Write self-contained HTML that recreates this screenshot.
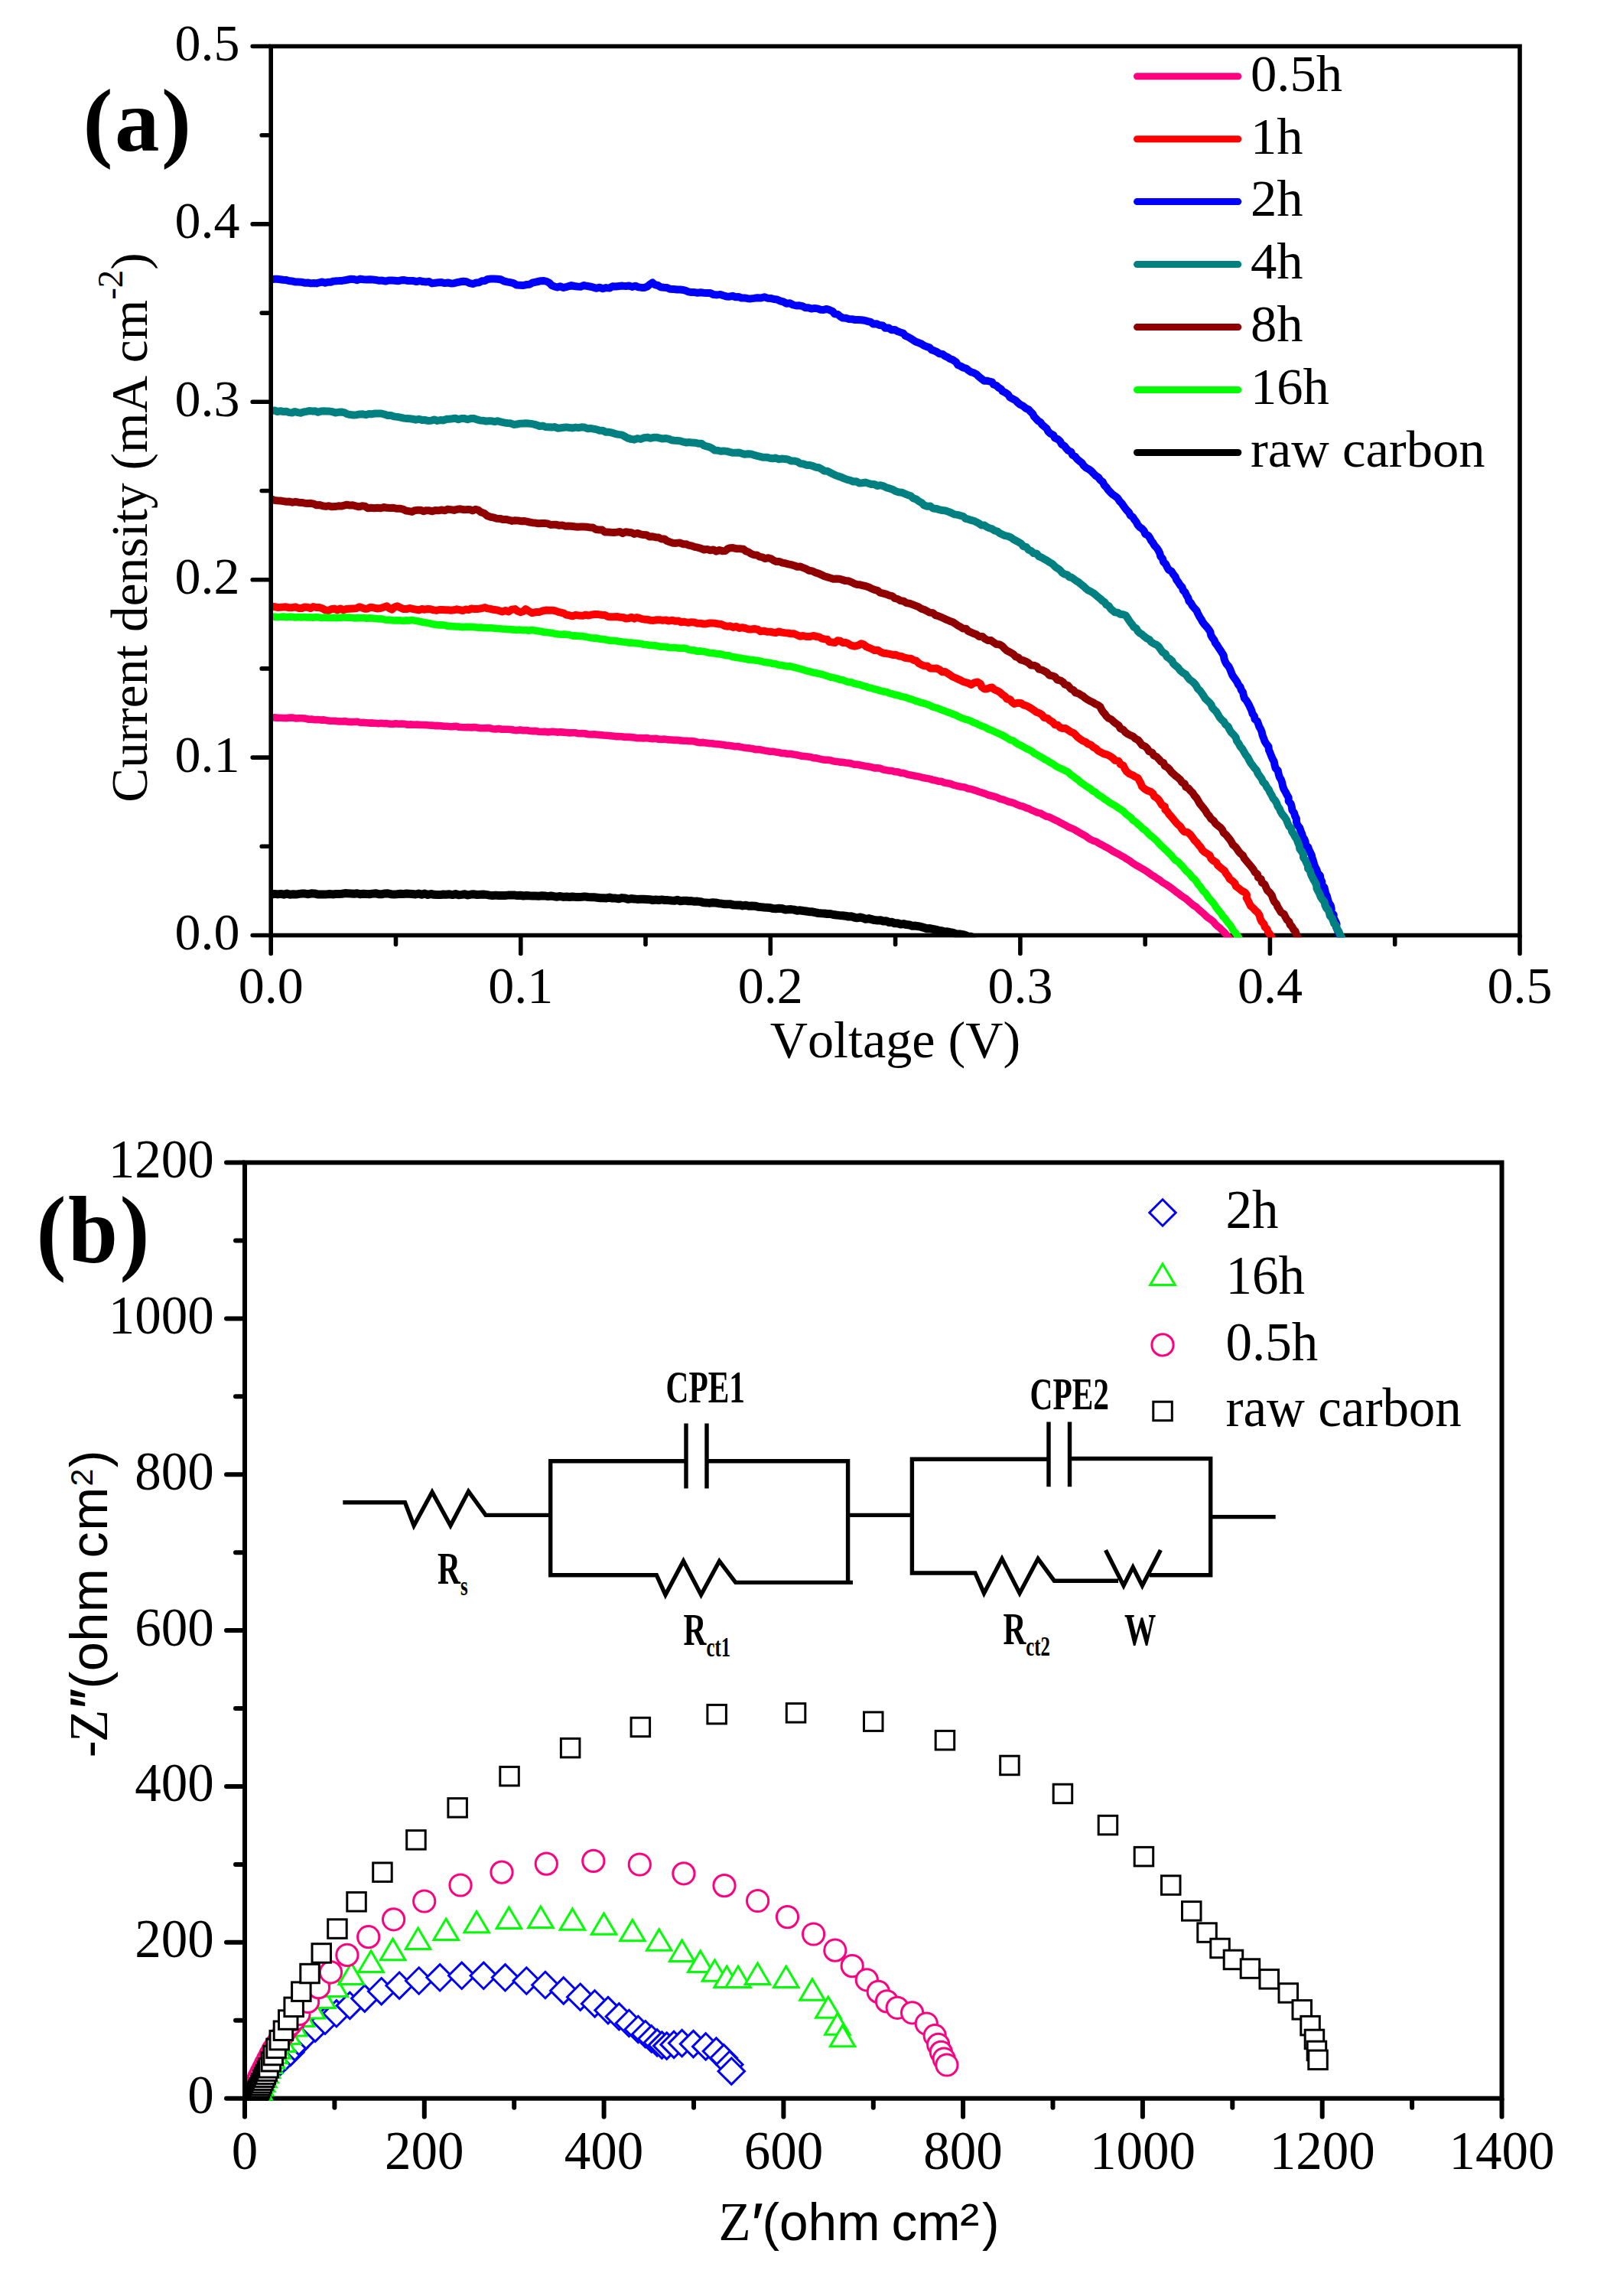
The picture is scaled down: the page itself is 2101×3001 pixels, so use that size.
<!DOCTYPE html>
<html lang="en"><head><meta charset="utf-8"><title>J-V curves and Nyquist plots</title>
<style>html,body{margin:0;padding:0;background:#fff}svg{display:block}text{fill:#000;font-kerning:none;font-variant-ligatures:none}.t{font-family:"Liberation Serif", "DejaVu Serif", serif;font-size:68px}.tb{font-family:"Liberation Serif", "DejaVu Serif", serif;font-size:69px}.s{font-family:"Liberation Sans", "DejaVu Sans", sans-serif}.cb{font-family:"Liberation Serif", "DejaVu Serif", serif;font-weight:bold;font-size:60px}.pl{font-family:"Liberation Serif", "DejaVu Serif", serif;font-weight:bold;font-size:117px;letter-spacing:2.5px}</style></head><body>
<svg width="2101" height="3001" viewBox="0 0 2101 3001">
<rect width="2101" height="3001" fill="#fff"/>
<defs><clipPath id="ca"><rect x="357" y="63" width="1627" height="1162.3"/></clipPath><clipPath id="cb"><rect x="323" y="1522.5" width="1637.5" height="1223.2"/></clipPath></defs>
<g id="panel-a">
<rect x="354.2" y="60.5" width="1632.8" height="1162" fill="none" stroke="#000" stroke-width="5.6"/>
<path d="M353.2 1222.5H330.2M354.2 1223.5V1246.5M353.2 1106.3H342.2M517.5 1223.5V1234.5M353.2 990.1H330.2M680.8 1223.5V1246.5M353.2 873.9H342.2M844 1223.5V1234.5M353.2 757.7H330.2M1007.3 1223.5V1246.5M353.2 641.5H342.2M1170.6 1223.5V1234.5M353.2 525.3H330.2M1333.9 1223.5V1246.5M353.2 409.1H342.2M1497.2 1223.5V1234.5M353.2 292.9H330.2M1660.4 1223.5V1246.5M353.2 176.7H342.2M1823.7 1223.5V1234.5M353.2 60.5H330.2M1987 1223.5V1246.5" stroke="#000" stroke-width="5.6" stroke-linecap="round" fill="none"/>
<text class="t" x="313.5" y="1240.9" text-anchor="end">0.0</text>
<text class="t" x="354.2" y="1310.6" text-anchor="middle">0.0</text>
<text class="t" x="313.5" y="1008.5" text-anchor="end">0.1</text>
<text class="t" x="680.8" y="1310.6" text-anchor="middle">0.1</text>
<text class="t" x="313.5" y="776.1" text-anchor="end">0.2</text>
<text class="t" x="1007.3" y="1310.6" text-anchor="middle">0.2</text>
<text class="t" x="313.5" y="543.7" text-anchor="end">0.3</text>
<text class="t" x="1333.9" y="1310.6" text-anchor="middle">0.3</text>
<text class="t" x="313.5" y="311.3" text-anchor="end">0.4</text>
<text class="t" x="1660.4" y="1310.6" text-anchor="middle">0.4</text>
<text class="t" x="313.5" y="78.9" text-anchor="end">0.5</text>
<text class="t" x="1987" y="1310.6" text-anchor="middle">0.5</text>
<g clip-path="url(#ca)" fill="none" stroke-linejoin="round" stroke-linecap="butt">
<path d="M355.1,938.1 359.1,937.9 363.1,938.3 367.1,938.2 371.1,938.5 375.1,938.6 379.1,938.1 383.1,938.1 387.1,939 391.1,938.8 395.1,938.8 399.2,939.1 403.2,940.2 407.3,940 411.3,940.7 415.3,940.6 419.4,941.1 423.5,940.9 427.5,941.7 431.5,942.3 435.6,942.2 439.5,942.4 443.4,942.9 447.4,943 451.4,942.6 455.3,943.5 459.3,943.6 463.2,943.5 467.2,943.4 471.1,944.5 475.1,944.3 479,944.7 482.9,945.1 486.9,944.9 490.7,945.3 494.5,945.7 498.3,945.3 502.1,945.8 505.9,945.6 509.7,946.3 513.5,946.4 517.3,945.8 521.1,946.3 525.1,946.1 529,946.3 533,947.2 536.9,946.9 540.9,947.2 544.8,947.1 548.8,947.4 552.7,947.5 556.7,947.6 560.6,948 564.6,948.1 568.5,948.6 572.5,948.4 576.4,948.8 580.3,949.2 584.3,949.3 588.2,949.7 592.2,949.6 596.2,949.3 600.1,950.2 604,950.5 608,950.7 612,950.5 615.9,950.9 619.9,950.6 623.8,951.1 627.8,951.7 631.9,951.7 635.9,951.6 639.9,951.6 643.9,952.7 647.9,953 652,952.4 656,953.3 660,953.2 664.1,953.2 668.1,953.5 672.1,954.3 676.1,954.6 680.2,954 684.2,954.8 688.3,954.5 692.3,955.2 696.3,955.6 700.3,955.4 704.3,956.2 708.3,956.5 712.4,956.2 716.4,956.9 720.4,956.4 724.5,956.4 728.5,957.1 732.5,956.7 736.6,957.1 740.6,957.5 744.6,957.9 748.6,957.7 752.7,957.8 756.7,958.8 760.7,958.6 764.7,958.8 768.7,959.7 772.8,960 776.8,959.8 780.8,960.2 784.9,960.6 788.9,961 792.9,961.3 796.9,961.6 801,962 805,962.6 809,962.5 813.1,962.7 817.1,963.4 821.1,963.2 825.1,963.6 829.2,964.1 833.2,964.8 837.2,964.6 841.2,964.9 845.3,964.6 849.3,965.2 853.3,965.6 857.4,965.3 861.4,966.2 865.4,966.4 869.4,966.1 873.4,966.9 877.5,967 881.5,967.4 885.5,967.3 889.5,967.9 893.6,968.2 897.6,968.2 900,968.6 903.9,968.5 907.7,969 911.4,970 915.2,970.7 919,970.4 922.8,971 926.6,971.6 930.4,971.7 934.2,972.3 938,972.6 941.9,973 945.6,973.6 949.4,974.2 953.3,974.4 957.1,974.9 960.8,975.8 964.7,975.5 968.5,976.4 972.2,977.1 976,977.8 979.9,977.9 983.7,978.4 987.4,979.6 991.3,979.6 995.1,980.1 998.9,980.9 1002.7,981.6 1006.5,982.2 1010.3,982.2 1014.1,982.9 1017.9,983.4 1021.6,984.4 1025.5,984.5 1029.3,985.4 1033.1,985.2 1036.9,986 1040.7,986.5 1044.5,987.4 1048.2,988.3 1052.1,988.5 1056,989 1059.8,989.5 1063.5,990.6 1067.4,990.9 1071.1,991.8 1074.9,992.7 1078.7,993.3 1082.6,993.2 1086.4,993.9 1090.1,995 1093.9,995.4 1097.7,996.1 1101.6,996.2 1105.4,997 1109.2,997.2 1113,998 1116.7,999.2 1120.6,999.3 1124.4,1000 1128.2,1000.8 1132,1001.4 1135.8,1002 1139.6,1002.8 1143.3,1003.9 1147.2,1003.8 1151.1,1004.3 1154.7,1006 1158.5,1006.6 1162.3,1007.4 1166.2,1007.5 1169.9,1008.7 1173.8,1008.9 1177.5,1010.2 1181.5,1010.4 1185.2,1011.8 1188.9,1012.8 1192.8,1013.5 1196.6,1014.2 1200.5,1014.9 1204.3,1015.8 1208,1016.8 1211.9,1017.4 1215.7,1018.1 1219.4,1019.4 1223.3,1019.9 1227,1021.3 1230.9,1021.4 1234.6,1023.1 1238.4,1023.7 1242.3,1024.3 1245.9,1025.8 1249.8,1026.8 1253.6,1027.8 1257.4,1028.5 1261.4,1029 1265,1030.7 1269,1031.2 1272.7,1032.4 1276.5,1033.6 1280.2,1035 1284.1,1036.1 1287.9,1037.3 1291.6,1039 1295.5,1040 1299.3,1041 1303.2,1042.1 1306.8,1044 1310.7,1044.9 1314.5,1046.2 1318.2,1047.8 1322.2,1048.7 1326,1049.9 1329.7,1051.6 1333.4,1053.2 1337.4,1053.9 1341,1055.8 1344.9,1056.9 1348.6,1058.9 1352.4,1060.4 1356.2,1062.1 1360.3,1062.9 1363.9,1065.1 1367.6,1067 1371.7,1067.9 1375.4,1069.7 1379.2,1071.6 1382.7,1073.2 1386.1,1075.2 1389.6,1076.9 1393.1,1078.7 1396.4,1080.8 1400,1082.3 1403.9,1083.9 1407.5,1086 1411.2,1088.2 1414.8,1090.2 1418.5,1092.2 1421.9,1094.7 1425.4,1097 1429.1,1098.8 1433.1,1100 1436.6,1102.3 1440.3,1104.1 1443.9,1106.2 1447.6,1108.1 1451.3,1110.2 1454.8,1112.5 1458.5,1114.5 1462.3,1116.3 1465.8,1118.5 1469.7,1120.5 1473.3,1122.9 1477,1125.1 1480.4,1127.7 1484,1130.1 1487.8,1132.2 1491.5,1134.4 1495.3,1136.5 1498.9,1138.8 1502.5,1141.3 1506,1143.8 1509.7,1146 1512.7,1148.3 1516.1,1150.2 1519,1152.7 1522.2,1154.7 1525.5,1156.7 1528.6,1158.8 1531.7,1161 1534.8,1163.4 1537.8,1165.9 1541.1,1168 1544.1,1170.6 1547.4,1172.8 1550.7,1174.9 1553.6,1177.5 1556.9,1180.3 1560.1,1183.1 1563.8,1185.4 1566.9,1188.4 1570.1,1191.2 1573.4,1193.9 1576.4,1197 1579.7,1199.8 1583.3,1202.1 1586.6,1204.9 1589,1208 1591.8,1210.6 1595,1213 1597.6,1215.9 1600.5,1218.4 1603,1221.4 1605.8,1225 1609.1,1228.3" stroke="#FF0080" stroke-width="9.6"/>
<path d="M355.1,792.6 358.9,793.2 362.6,793.9 366.4,793.8 370.2,793.6 374,793.3 378,794.3 382.2,794.2 386.4,793.3 390.4,794.9 394.5,795 398.2,793.5 402,793.7 405.8,795.1 409.5,793 413.3,794 417.6,794.1 421.6,795.3 425.3,797.4 429.3,798.2 433.1,796.2 437,795.6 441,797.5 444.8,795.5 448.8,797.1 452.7,796.1 457,795.8 461.4,795.5 465.7,795.2 469.8,793.3 473.2,794.3 476.5,795.7 480.1,795.7 484.1,793.8 488.6,794.3 492.8,795.4 497.2,795 501.5,793.7 505.7,792.3 508.8,795 512.6,796.7 515.4,793.7 519.4,792.3 523.2,794.2 527.1,795.9 531.4,796.1 535.4,795 539.4,795.8 543.4,796.6 547.3,797.4 551.4,796 555.4,796.7 559.2,796 563,796.3 566.8,797.4 570.5,797.9 574.4,797 578.2,797.1 582,797.3 585.8,797.3 589.6,797.8 593.4,797.3 597.2,796.3 601.1,797.1 605,798.1 608.8,796.5 612.7,797.1 616.5,795.4 620.4,796.1 625,795.9 629.6,795.3 634.1,794 637.4,795.4 640.9,795.9 644.3,796.7 648.5,797.2 652.5,798.2 656.5,799.4 660.9,798 664.9,799.5 668.8,796.8 673.4,796.1 676.5,798.7 680.3,800.2 684.3,799 687.1,796.1 691.4,798.7 695.7,801.2 700.2,800.1 704.9,799.9 709.4,798.5 713.6,797.6 717.9,797.8 722.2,797.7 726.5,798.5 729.8,799.9 733.5,800.6 737,801.6 740.2,803.6 744.4,804.3 748.7,805.3 753,803.8 757.3,804.6 761.4,804.8 765.5,803.7 769.7,804.5 773.7,803.5 777.8,802.9 782.2,803.1 786.5,803.7 790.9,804 794.9,806 798.8,806.2 802.8,806.3 806.7,806 810.6,806.8 814.5,807 818.3,808.5 822.3,808 825.6,806.8 829.3,808.6 832.6,807 836,807.9 839.4,809.1 842.8,809.7 846.8,809.8 850.6,810.8 854.6,810.9 858.5,810.3 862.4,810.2 866.3,810.9 870.2,810.4 874.4,811.6 878.8,810.7 883,811.8 887.3,811.5 890.5,813.3 894.2,812.7 897.6,813.5 900,813.9 903.9,813.2 907.8,813.4 911.7,814.7 915.6,814.7 919.5,815.5 923.4,815.4 927.4,814.5 931.4,814.4 935.3,814.8 939.2,815.5 943.1,815.9 946.9,817.8 950.7,818.7 954.8,818.3 958.5,819.9 962.7,818.8 966.4,821 970.5,820.2 974.3,821 978.1,822.4 982.1,822.4 986.4,822 990.5,822.7 994.3,825.3 998.7,824.6 1002.7,825.8 1006.6,825.7 1010.5,826.5 1014.4,827 1018.4,825.5 1022.3,826.6 1026.2,827.1 1030.1,827.5 1034.1,828.2 1038.2,828.3 1042,830 1045.8,831.7 1050.1,831 1054,832 1058.6,832.1 1063.1,831 1067.7,832 1071.3,832.6 1074.4,834.7 1078,835.4 1081.8,835.8 1084.4,839.1 1088.2,839.5 1091.8,840 1094.9,837.3 1098.5,837.8 1101.6,840 1105.5,839.8 1108.8,841.2 1112.8,843.6 1117.3,844.7 1121.9,843.6 1125.9,841.2 1129.5,842.5 1132.5,845.1 1136,846.7 1139.6,848.1 1143.3,850 1147.6,849.7 1151.1,852.1 1154.9,853.7 1159,854.1 1163,854.9 1167,855.9 1171.1,855.8 1174.9,857.5 1179,858 1182.8,859.7 1186.8,860.4 1190.9,860.7 1194.3,862.8 1198.2,863.9 1201,866.8 1204.4,868.7 1208,870.3 1212.3,870.5 1216,873.4 1220.3,873.8 1224.7,873.5 1228.6,875.5 1231.5,878.2 1235.8,878 1239,880.2 1242.3,882.3 1245.4,884.5 1249,886 1252.5,887.6 1255.9,889.1 1259.2,891 1262.8,892 1266.4,893.1 1269.6,895 1273.6,892.5 1278.2,891.5 1281.9,893.7 1283.5,897.9 1286.7,900.4 1290.3,900.4 1293.6,899.2 1297,898.4 1300.1,901.3 1304.1,902.9 1307.6,905.1 1310.7,908 1314,910.1 1316.3,913.5 1320.7,914.2 1323,917.6 1326.1,920 1330.3,918.8 1334.7,918.9 1337.8,921.4 1341.7,922.3 1345.1,924.1 1348.5,926.1 1351.7,928.3 1354.9,930.7 1358.6,931.9 1362.3,934.2 1364.9,937.8 1369.5,938.8 1372.7,941.7 1376.4,943.9 1379.2,947.3 1383,947.8 1385.7,950.7 1389.2,952 1393.2,952 1396.3,954.2 1400,956.7 1403.7,958.2 1406.5,960.9 1409.2,963.8 1412.3,966.1 1415.6,968.2 1419.2,969.8 1422.4,972.3 1426.3,973.7 1429.2,976.5 1432.8,978.4 1435.7,981.3 1439.5,983.3 1443.3,985.3 1447.5,986.4 1451.3,988.4 1454.9,990.9 1457.9,993.9 1462.4,994.7 1464.7,998.8 1468.6,1000.5 1470.5,1004.8 1473.1,1008.6 1476.8,1011.5 1480.6,1013.1 1484.1,1015.3 1487.8,1017 1489.7,1020.6 1491.6,1024 1492.9,1027.9 1496,1030.7 1499.9,1033.2 1504.3,1034.8 1507.4,1037.2 1509.1,1041 1512.5,1043 1515.2,1045.8 1517.2,1049 1519.1,1052.2 1522.9,1054.1 1523.4,1058.3 1526.2,1060.9 1528.6,1064.6 1531.7,1067.8 1534.4,1071.2 1537.2,1074.6 1540,1077.6 1543.3,1080.3 1545.3,1083.9 1548.1,1087 1552.8,1087.9 1556.4,1091.1 1559.1,1094.5 1561.6,1098.2 1564.7,1101.3 1567.4,1104.8 1570,1107.7 1572,1111.1 1574.9,1113.8 1578.3,1115.8 1581.8,1118.2 1583.3,1122.3 1586.3,1125 1590.2,1127.1 1592,1130.9 1595,1133.4 1598,1135.9 1601.1,1138.3 1603,1141.8 1605.7,1145.1 1607.7,1149 1611.2,1151.4 1614.3,1154.3 1616,1158.5 1619.5,1161 1623.3,1164.2 1627.7,1166.5 1630,1169.6 1629.6,1173.7 1631.6,1176.9 1633.2,1180.2 1635.1,1184.1 1638.3,1186.8 1641,1189.9 1644.2,1192.6 1646.6,1196.2 1647.6,1200.5 1649.4,1204.4 1652.4,1207.7 1653.7,1211.6 1656.7,1214.5 1658,1218.3 1660.6,1221.4 1662.3,1224.8 1663.9,1228.3" stroke="#FF0000" stroke-width="10"/>
<path d="M355.1,365.3 358.9,364.7 362.6,364.8 366.3,365.2 370,365.7 373.7,365.9 377.4,367 381.5,367.4 385.6,368.4 389.8,368.5 394,368.7 398.1,369.7 402.4,369.5 406.5,370.4 410.2,370 413.9,370.4 417.6,369.3 421.2,368.5 425.1,369.8 428.7,368.7 432.5,368.8 436.1,367.6 439.8,367.2 443.6,367.1 447.3,366.9 451,366.3 454.9,365.5 458.9,364.8 462.9,365.1 467,366.2 470.9,364.6 474.9,365.3 479.1,365.5 483.3,365.3 487.4,365.6 491.6,365.9 495.7,366.8 499.9,366.6 504,367.6 508.1,366.5 512.1,366.6 516.2,366.7 520.3,367.3 524.3,366.3 528.4,366.1 532.5,366.9 536.5,367 540.6,367.1 544.6,368.1 548.8,367 552.8,368.1 556.9,368.4 561,368 564.9,370.4 569,369.7 573.2,369.2 577.3,369.1 581.4,370.1 585.5,369.5 589.6,370.4 593.7,370.2 597.8,369.2 601.8,368.3 605.9,367.8 610.1,368.3 614.2,370.2 618.7,371.1 622.3,369.4 626.4,369.2 629.9,367.3 634,367 637.5,364.9 641.8,364.6 646.1,364.5 650.3,364.7 654.6,365.3 658.5,367.3 662.7,368.4 667,369.2 671.3,370.2 675.1,372.4 679.4,372.7 683.7,373.1 688,372.1 692.3,371.8 695.8,369.7 699.5,368.8 703.3,368 707.1,367.2 711.1,367 715,368 718.4,369.9 721.2,372.9 724.8,374.5 728.6,375.5 732.5,374.2 736.3,376 740.2,375.2 743.6,374.1 747,373.1 751,374 754.9,374.5 758.9,374.8 763,373 767,373.8 771,374.5 775.2,375.4 779.4,376.8 784,375.7 788.1,377.2 792.3,376.1 796.8,376.6 800.8,374.3 805.2,374.5 809.5,374 813.7,373.6 818.1,374.1 822.3,373.5 826.3,374.9 830.6,373.7 834.6,375.4 838.7,375.9 842.8,375.9 846.7,374.3 849.8,371.6 853.1,369.4 856.1,372.1 860.1,373 863.4,375.2 867.7,375.7 872,376 876.1,377.8 880.5,377.9 884.8,378.5 889.1,378.6 893.4,379 897.6,380.3 900,381.3 904,382.1 908,382.1 911.9,382.7 916,382.2 920,382.7 924,383 928.7,383.1 933,385.1 937.6,385.4 941.8,384.9 945.6,386.3 949.6,387.4 953.6,387.7 957.7,386.8 961.6,388.2 965.6,387.9 969.5,389.5 973.6,389.4 977.5,390.2 981.5,390.4 985.6,389.9 990.1,389.2 994.8,389.6 999.3,388.2 1003.2,389.7 1007.6,389.9 1011.6,391 1015.9,391.4 1019.8,393.3 1024.1,394.4 1028.1,396.8 1032.9,396.3 1036.9,398.5 1040.9,399.5 1045.1,399.3 1049.1,400.1 1052.8,402.2 1057,402.2 1060.9,403.6 1064.9,402.9 1068.9,403.4 1072.8,404.8 1076.8,404.9 1080.9,403.9 1084.8,405.3 1088.5,406.8 1091.1,410.3 1095.4,410.9 1098.4,413.6 1101.9,415.6 1105.9,415.8 1109.8,417.1 1113.9,417.2 1117.8,418 1121.9,417.9 1125.9,418.3 1130.1,418.8 1134.1,419.9 1138.1,420.8 1141.7,423.6 1146.1,423.2 1149.8,425.1 1154.1,425.5 1157.3,428.8 1161.8,428.5 1165.2,431.2 1169.7,430.9 1173.3,433 1177.2,434.4 1181,435.8 1183.7,438.9 1187.4,440.5 1190.8,442.5 1194.1,444.7 1197.4,446.8 1201.2,448.1 1204.8,449.5 1207.9,451.7 1211.5,453.1 1215.3,454.2 1218,457.3 1221.6,458.5 1225.1,460.1 1228.3,462.4 1232.3,462.9 1235.4,465.3 1238.9,466.8 1242,469.1 1245.7,470.3 1249.8,473.1 1252.5,477.2 1256.1,478.6 1259.4,480.6 1263.2,481.5 1266.2,484.1 1269.4,486.2 1273.1,487.3 1276.5,489.1 1279.7,492.3 1283.2,495 1286.7,497.7 1290.3,497.7 1293.6,498.5 1297,499.4 1299,502.6 1302.7,503.9 1305.3,506.5 1308.6,508.3 1310.7,511.4 1314.5,513.3 1318,515.6 1320.4,519.4 1324.1,521.4 1327.8,523.4 1330.8,526.4 1334,529 1337.9,530.8 1341,533.7 1344.9,535.4 1347.4,538.2 1350.2,540.8 1351.9,544.4 1354.5,547.1 1357,549.9 1360.4,552 1362.5,555.2 1365.5,557.6 1368.5,560.3 1370.4,564 1373.4,566.7 1377.2,568.6 1379,572.4 1383.1,574.1 1386,576.8 1387.9,580.6 1391.4,582.7 1393.9,585.9 1396.6,588.9 1400.4,590.8 1402.1,594.7 1405.7,596.8 1408.2,600 1411.3,602.6 1414.5,605.2 1416.9,608.6 1419.9,611.4 1423.6,613.4 1426.9,615.8 1429.7,618.9 1432.5,621.8 1436,624 1438.4,627.4 1441.8,630 1443.6,633.9 1446.5,636.9 1448.9,640.3 1451.7,643.4 1454.6,646.3 1458.2,648.6 1461.4,651.3 1463.6,654.9 1466.4,657.7 1468.6,660.9 1470.9,664.1 1473.3,667.1 1476.1,669.9 1477.7,673.6 1481.1,675.9 1483.2,679.2 1485.6,682.3 1487.4,685.9 1489.9,688.8 1493.3,691.2 1495.8,694.1 1497.3,698 1501.1,699.9 1503.3,703.1 1505.1,706.7 1507.5,709.7 1509.5,713.2 1512.3,716.2 1514.6,719.5 1516.3,723.1 1517.3,727.2 1520,730.3 1521,734.3 1524,737.2 1525.8,741 1527.8,744.6 1531.8,746.9 1533.9,750.5 1536.6,753.7 1538.1,757.7 1540.6,761 1542.7,764.6 1545.6,767.5 1546.7,771.5 1549.6,774.4 1551.2,778.1 1553.4,781.5 1554.4,785.5 1557.2,788.5 1559.1,792 1561.9,795.2 1564.6,798.3 1566.2,802.2 1568.2,805.9 1570.5,809.4 1572.4,813.1 1574.9,816.4 1577.8,819.5 1580.2,822.6 1582.4,825.9 1583.1,830 1585,833.5 1587.5,836.6 1588.9,840.4 1591.4,843.5 1593.4,846.9 1595.7,850.1 1597.7,853.4 1599.8,856.7 1600.4,860.8 1601.7,864.5 1603.5,867.9 1606.2,870.9 1608,874.3 1609.5,878 1610.8,881.7 1612.9,885 1615.2,888.2 1617.4,891.4 1619,894.9 1621.6,898 1622.8,901.8 1625.1,904.9 1625.8,908.8 1626.9,912.6 1629.5,915.5 1631.5,918.8 1633.4,922.2 1634.9,925.7 1636.5,929.2 1637.5,932.9 1639.9,936 1640.5,939.9 1643.8,942.6 1645.1,946.2 1646.3,949.8 1648.2,953.1 1649.7,956.7 1650.5,960.9 1652.1,964.8 1653.5,968.8 1655.7,972.4 1658.5,975.9 1658.9,980.2 1660.6,984.1 1662.1,988 1663.8,991.9 1665.8,995.7 1666.5,999.9 1667.6,1004 1670.8,1007.3 1671.6,1011.5 1672.8,1015.6 1675,1019.3 1676.3,1023.3 1677.1,1027.5 1678.5,1031.5 1680.7,1035.2 1682.6,1039 1684.7,1042.6 1684.7,1047.1 1687.7,1050.5 1688.8,1054.5 1689.4,1058.8 1691.9,1062.3 1693,1066.4 1694.9,1070.1 1695,1074.6 1696.4,1078.5 1699.2,1081.9 1700.5,1085.9 1702.2,1089.7 1703.2,1093.8 1705.4,1096.9 1706.7,1100.5 1706.8,1104.5 1710.2,1107.2 1711.4,1110.7 1713,1114.1 1714.8,1117.5 1715.5,1121.3 1717,1125.2 1718.1,1129.3 1719.5,1133.3 1721.5,1137 1722.7,1141.1 1725.9,1144.4 1726.5,1148.7 1728.3,1152.5 1728.3,1156.9 1731.5,1160.1 1732.4,1164.2 1733.4,1168.3 1735.2,1172 1736.1,1176.1 1737.4,1180.1 1739.8,1183.6 1740.7,1187.7 1740.6,1192.1 1743.7,1195.5 1743.5,1199.9 1745.7,1203.6 1747.5,1207.5 1747,1212.1 1748.9,1216 1750.1,1220.1 1752.4,1223.9 1752.8,1228.3" stroke="#0000FF" stroke-width="10"/>
<path d="M355.1,537.1 359,536.4 362.8,538.1 366.7,537.2 370.5,538.1 374.3,537.7 378,539.1 381.8,539.5 385.6,538 389.4,539.1 393.2,539.7 396.9,538.5 400.6,537.9 404.3,537 408.2,537.4 412,537.3 415.8,538.7 419.6,537.4 423.4,537.3 427.2,537.5 431,537.6 434.8,538.2 438.6,539.5 442.4,538.8 446.5,538.5 450.5,539.3 454.3,541.4 458.2,542 462.2,542.6 466.4,542.2 470.3,541.4 474.3,541.3 478.4,542.2 482.3,541 486.4,541.2 490.3,540.5 494.5,540.6 498.6,540.5 502.7,541.6 506.7,542.9 510.9,542.9 515,544.4 519.4,544.9 523.7,545.6 528,546.6 531.9,547.1 535.8,547.2 539.7,547.7 543.6,548.7 547.6,547.8 551.4,548.9 555.4,549 559.5,549.9 563.6,549.7 567.7,548.4 571.8,550 575.9,549 579.9,549.4 583.7,547.8 587.6,547.7 591.5,547.3 595.4,546.7 599.4,548.2 603.3,547 607.4,547.1 611.4,548.3 615.6,547 619.8,547.1 623.8,548.4 627.6,549.5 631.4,549.7 635.3,550.5 639.2,550.3 643.1,550.3 646.9,551.2 650.8,550.2 654.6,551.4 658.9,552.4 663.2,553 667.6,553.3 671.7,554.9 675.6,554.6 679.4,553.7 683.3,553.6 687.1,553.2 690.9,553.5 694.6,553.9 698.3,554.6 701.9,555.6 705.5,557 709.4,556.6 713.3,557.9 717.3,558.2 721.3,558.6 725.4,558 729.2,559.8 733.3,559.3 737.2,558.8 741,558.4 744.9,559.1 748.7,559.4 752.6,558.6 756.4,559.1 760.3,558.3 764.1,558.6 768,560.2 772.1,559.9 776.1,560.6 780.1,561.4 784,562.8 788.1,562.7 792,564.7 796.3,564.8 800.4,565.7 804.5,567.1 808.6,567.9 813,568.4 816.9,570.5 820.7,572.6 824.9,573.9 829.2,574.7 833.3,573.1 837.8,573.9 842,572.2 846.3,571.6 850.2,572.8 854.3,571.8 858.3,571.7 862.2,572.6 866.2,573.5 870.2,573 874.2,573.6 877.9,575.3 881.9,575.8 885.9,575.9 889.9,576.5 893.7,577.7 897.6,578.5 900,578.1 904.3,578.4 908.6,578.7 912.8,579.7 917.1,579.8 920.2,582.2 923.9,583.4 927.7,584.3 931.1,586.2 934.2,588.4 938.3,588.7 942.2,589.8 946.3,589.4 950.3,589.9 954.2,590.9 958.2,591.8 962.2,591.7 966.2,591.5 970.2,592.8 974.1,593.8 978.1,593.3 982.1,593.5 986,594.9 990,595.9 994,596.8 997.9,597.8 1002.1,597.7 1006.1,598.7 1010.1,599.3 1014.1,598.5 1018,600.3 1022.1,599.6 1026.1,600 1030.1,600.4 1033.9,602.4 1038.4,602.4 1042.6,603.5 1046.3,605.9 1050.6,606.5 1054.5,607.9 1058.8,608 1062.8,609.1 1066.6,610.8 1070.8,611.3 1074.5,613.4 1077.7,615.5 1081.6,615.8 1085,617.5 1088.3,619.2 1091.7,620.9 1095.6,622.4 1099.7,623.6 1103.6,625.4 1107.5,626.9 1111.7,627.9 1115.6,629.5 1119.6,629.2 1123.3,631.4 1127.3,631.3 1131.4,630.6 1135.2,631.8 1139,632.9 1143,632.9 1146.7,635 1151.2,634.3 1155.2,635.4 1159,637.4 1163,638.4 1167,639.7 1170.7,641.9 1174.7,643.2 1179.1,643.7 1183,645.3 1186.9,647 1190.9,648.3 1193.9,651.3 1198.1,652.6 1201.3,655.3 1205.1,657.2 1208,660.3 1211.9,661.7 1216.3,661.6 1219.8,664.5 1224,664.9 1228,666.1 1232,667.1 1236.2,667.5 1240.1,668.9 1244,670.5 1247.8,672.4 1251.9,672.9 1255.9,674 1259.5,675 1262.4,677.8 1266.1,678.7 1269.6,679.9 1273.3,680.8 1276.6,682.4 1279.9,684.2 1283,686.4 1287,686.5 1290.1,688.7 1293.5,690.3 1297.1,691.3 1300.2,693.5 1303.9,694.5 1306.9,696.9 1310.4,698.6 1313.9,700.1 1317.8,700.8 1321.4,702.3 1324.5,704.6 1327.8,706.5 1331.4,708.4 1335,710.5 1337.7,713.9 1341.8,715.1 1344.6,718.4 1348.4,720.2 1351.3,723.1 1355.6,723.8 1358.2,727.3 1362,728.7 1365.6,730.9 1369.2,732.9 1372.7,735.2 1376.3,737.3 1379.2,740.4 1382.3,742.7 1385.6,744.9 1388.1,747.9 1391.3,750.3 1395.4,751.3 1398,754.4 1400,754.2 1403.3,756.4 1406.5,758.9 1410,760.9 1413.1,763.5 1416.3,765.9 1419.2,768.7 1422.2,771.3 1425.8,773 1429.3,775 1432.3,777.4 1435.3,780.1 1438.4,782.4 1441.1,785.1 1444.2,787.2 1446.4,790.4 1449.8,792.2 1451.9,795.4 1454.7,797.9 1457.6,800.3 1461.4,800.7 1464.6,802.8 1468.4,803.2 1471.9,804.4 1473.9,807.5 1475.9,810.5 1477.9,813.6 1480.3,816.4 1482.3,819.5 1485.6,821.3 1487.4,824.8 1490.1,827.4 1493.3,829.3 1496,831.8 1499.1,834.2 1502.7,836 1505.2,839.3 1508.6,841.3 1512.3,842.8 1515.2,845.5 1517.5,849.1 1520,852.4 1523.7,854.6 1525.5,858.5 1529,861 1532.2,863.6 1534.1,867.4 1537.2,870.2 1540.5,872.9 1543,876.4 1546.3,879.1 1550.1,881.3 1552.6,884.8 1555.2,888.2 1558.8,890.6 1561.9,893.6 1564.2,896.7 1566,900.3 1569,902.9 1571.3,906.1 1573.5,909.3 1575.5,912.8 1578.3,915.5 1581.1,918.1 1583.5,920.9 1584.8,924.7 1587.4,927.5 1590.1,930.1 1592,933.3 1594.2,937.1 1596.9,940.4 1600.2,943.3 1602.3,947.1 1605.8,949.8 1607.5,953.8 1609.9,957.4 1613,960.5 1615.7,963.9 1616.9,968.3 1619.5,971.7 1621.4,975.6 1624.3,978.9 1626.4,982.7 1628.5,986.4 1631.3,989.8 1633.2,993.7 1635.2,997.3 1637.7,1000.6 1640.2,1003.9 1643,1007 1644.5,1010.9 1646.9,1014.3 1649.5,1017.7 1651.1,1021.8 1654.3,1024.9 1656.2,1028.8 1658.9,1032.2 1660.6,1036.2 1662.8,1039.7 1664.4,1043.3 1667.2,1046.4 1669.2,1049.9 1670.5,1053.8 1672.9,1057.1 1674.3,1060.9 1676.6,1064.6 1679.5,1067.9 1681.9,1071.5 1683.4,1075.6 1685.1,1079.6 1688.1,1082.9 1689.1,1086.9 1691.5,1090.4 1693.4,1094.1 1695.7,1097.6 1697,1101.5 1698.7,1105.3 1699.3,1109.6 1701.8,1113 1704,1116.4 1704,1120.7 1706.4,1124 1708,1127.6 1709.8,1131.1 1710.1,1135.3 1713,1138.4 1713.8,1142.4 1715.5,1146 1717.2,1149.7 1719.5,1153.2 1721.1,1157 1721.5,1161.4 1723.5,1165.1 1725.4,1168.8 1726.8,1172.7 1729.2,1176.1 1731.7,1179.2 1732.3,1183.2 1733.9,1186.6 1736.6,1189.6 1737.9,1193.2 1738.7,1197.1 1741.5,1200 1742.9,1203.6 1744.2,1207.3 1747.1,1210.3 1747.9,1214.3 1750.4,1217.5 1751.7,1221.2 1753.7,1224.6 1755.3,1228.3" stroke="#008080" stroke-width="10"/>
<path d="M355.1,652.4 358.8,653.9 362.7,654.3 366.7,654.5 370.5,655.1 374.5,655.8 378.5,655.6 382.5,656.7 386.5,655.8 390.5,656.7 394.5,656.9 398.4,657.7 402.4,657.9 406.4,657.8 410.3,658.7 414,660.3 418.1,660 421.9,661.3 426,661.9 430.1,661.3 434.2,662.3 438.3,662.1 442.4,661.3 446.2,661.6 449.9,660.6 453.6,659.7 457.5,660.6 461.2,660.3 465.1,661.4 469.1,662.3 473.3,661.3 477.3,661.8 481,664.2 485.2,663.7 489.3,664.2 493.5,663.7 497.7,664.2 501.8,662.9 506,663.8 510.1,664.1 514.3,663.7 518.3,664.8 522.7,664.7 526.8,665.6 530.7,667.5 534.8,668.1 538.6,668.9 542.4,667.1 546.2,666.7 550,666.8 553.9,668.2 557.6,667.2 561.4,667.3 565.3,668.3 569,667.1 573.2,667.3 577.2,666.4 581.4,667.3 585.4,665.6 589.6,666.1 593.7,666.9 597.8,665.7 601.9,665.3 606,666.2 610.1,666.1 614,665.9 617.8,667.5 621.7,665.7 625.5,666.8 629,669.6 633.3,671 636.7,674 640.9,675.7 645.2,676.4 649.4,677.7 653.8,677.9 658,679.1 661.9,678.9 665.6,679.8 669.4,680.9 673.3,680.3 677.1,680.4 680.9,681.2 684.7,680.9 688.5,681.7 692.3,682.5 696.1,683.2 700.1,683.6 704,684.2 708,684 711.9,683.9 715.9,684.4 719.6,685.9 723.6,685.8 727.5,685.8 731.4,686.8 735.3,686.4 739.2,687.7 743.1,687.6 747,687.7 751,688.3 755,688.7 759,688.6 763,688.6 767,688.7 771,689.4 775.2,689.5 778.8,692 783,692.4 787.2,692.6 790.7,695.4 794.9,695.5 798.8,695.8 802.6,696 806.5,695.6 810.4,695 814.2,697.1 818,695.3 821.9,695.8 825.7,696.2 829.4,698 833.7,696.9 837.5,698.4 841.4,699.1 845.4,699.3 849,701.5 853.1,701.3 857,702.2 861.1,702.5 864.7,704.5 868.8,704.6 872.2,707.1 876,708.5 879.8,709.7 883.9,709.9 888.6,709.4 893,711.2 897.6,711.3 900,712.6 904.2,713.4 908.2,714.9 912.4,715.7 916.5,716.9 920.5,718.5 924.6,717.9 928.5,719.3 932.6,718.4 936.4,720.6 940.6,718.9 944.5,720.2 948.2,720.1 951.1,717.5 954.5,716.2 958.2,716.1 962.7,717.2 967.3,717.3 971.9,717.8 975,720.2 978.7,721.6 982,723.7 985.6,725.3 989.5,725.4 992.9,727.6 996.8,728.3 1000.2,730.2 1004.5,729.2 1008.2,730.3 1011.6,732.6 1015.2,734.1 1019.2,734 1022.8,735.6 1026.6,736.2 1030.5,737.4 1034.5,738.1 1038.4,739.3 1042.2,740.7 1046.5,740.5 1050.2,742.2 1054,743.7 1057.8,745.8 1062.2,746.4 1066,748.4 1070.2,749.6 1074.1,751.4 1078,753.3 1081.8,754.4 1085.7,755.5 1089.5,756.7 1093.6,756.5 1097.7,756.8 1101.5,757.9 1105.4,759.1 1109.4,759.3 1113.1,760.8 1116.7,762.7 1120.5,763.9 1124.5,764.3 1128.4,765.3 1132.2,766.2 1136,767.5 1139.6,769.4 1143.4,770.9 1147.4,771.9 1150.7,774.7 1154.7,775.6 1158.7,776.6 1162.5,778.3 1166.6,779.1 1169.8,782 1173.8,783 1177.4,785.1 1181.5,785.8 1185,788.1 1189.2,788.7 1193,790.1 1196.8,791.6 1200.7,793.1 1204.1,795.4 1208,796.7 1211.7,798.7 1215.4,800.6 1219.8,801.1 1223,804.1 1227.1,805.3 1231,806.8 1234.6,808.7 1238.5,810.3 1242.3,812.1 1246,813.3 1249.2,815.4 1252.4,817.6 1255.7,819.4 1259,821.5 1263.1,821.8 1265.8,824.9 1269.3,826.4 1272.8,828 1276.5,829.3 1279.9,831.9 1284.4,831.9 1287.6,834.9 1291.3,836.9 1295.8,837.1 1299.2,839.7 1302.7,842.1 1307.1,842.5 1310.7,844.7 1313.6,848 1317,850.8 1321.1,852.8 1324.9,855 1327.8,858.3 1331.5,859.5 1334.3,862.4 1338.2,863.3 1341.7,864.8 1345,866.8 1347.9,869.5 1352,869.8 1355.7,871.1 1358.2,874.6 1362,875.5 1365.7,877.2 1369,879.3 1371.8,882.5 1376,883.3 1379.6,884.9 1382.1,888.5 1386.3,889.3 1389.7,891.4 1392.4,894.8 1396.3,896 1400,900.4 1403.5,902 1405.9,905.3 1409.8,906.3 1413,908.3 1416.3,910.2 1419.2,912.8 1422.4,914.7 1425.5,916.5 1428.9,918 1432,920.1 1435.4,921.5 1438.4,923.7 1440,927.2 1442,930.3 1444.5,933.1 1446.6,936.2 1449.4,938.8 1453.2,940.6 1456.1,943.4 1459.4,945.9 1462.7,948.3 1464.7,952.2 1468.6,953.9 1471.2,957 1474.3,959.3 1477.9,961.1 1481.6,962.6 1484.4,965.5 1488,967.2 1490.5,970.4 1493,973.8 1497.1,975.5 1500.1,978.3 1502.2,982.1 1506.4,983.6 1508.4,987.5 1512.4,989.3 1515.2,992.3 1517.7,995.3 1521.3,997.2 1522.8,1001.2 1526.4,1003.1 1529.2,1005.8 1531.4,1009 1534.3,1011.7 1537.2,1014.3 1540.3,1016.6 1543.2,1019.2 1545.3,1022.6 1548.9,1024.5 1550.3,1028.6 1553.9,1030.5 1556.4,1033.5 1559.4,1036.4 1561.6,1040 1564.4,1043 1566.5,1046.6 1568.5,1050.3 1571.2,1053.5 1573.7,1056.7 1576.3,1060 1578.3,1063.6 1581.1,1066.7 1583.4,1070.2 1586.7,1072.7 1588.9,1076.2 1592.1,1078.9 1595.4,1081.4 1598.1,1084.5 1599.7,1088.5 1603,1091.1 1605.4,1094.2 1607.9,1097.2 1610,1100.5 1611.8,1104.1 1615,1106.6 1617.4,1109.7 1619.5,1113 1622.1,1115.8 1625.1,1118.2 1626.6,1121.8 1629.1,1124.7 1631.5,1127.6 1634,1130.5 1636.3,1133.4 1638.7,1136.4 1640.6,1140 1644,1142.6 1644.9,1147 1648.8,1149.2 1649.8,1153.5 1653.4,1155.9 1655.1,1159.7 1656.9,1163.7 1660.2,1166.7 1662.8,1170.2 1664.2,1174.4 1665.9,1178.4 1668.9,1181.6 1670.5,1185.5 1672.7,1188.9 1674.8,1192.5 1678.8,1194.8 1680.5,1198.6 1682.6,1202.2 1685.5,1204.7 1686.5,1208.6 1689.2,1211.2 1690.9,1214.6 1693.6,1217.3 1694.8,1221.2 1696.2,1225.1 1699,1228.3" stroke="#900000" stroke-width="10"/>
<path d="M355.1,806 359,806.2 362.8,806.5 366.7,806.3 370.5,805.9 374.4,806.8 378.2,806.1 382.1,806.2 385.9,807 389.8,806.5 393.6,807 397.5,806.5 401.3,807 405.3,806.7 409.2,807.3 413.2,806.6 417.1,807.1 421.1,807.6 425,806.9 429,807.4 432.9,807.5 436.9,807.4 440.8,807.5 444.8,807.5 448.7,806.8 452.7,807.3 456.5,807.1 460.3,807.5 464.1,808 467.9,807.4 471.7,807.8 475.5,807.4 479.3,808.2 483.1,807.9 486.9,808 490.9,808.5 494.9,809 498.9,808.9 502.9,809.9 506.8,810.3 510.9,810.4 515.1,811 519.4,810.7 523.7,810.9 528,811.5 531.4,810.8 534.9,811.2 538.2,810.4 542.1,811.1 546,811.8 549.8,812.6 553.6,813.5 557.5,813.9 561.4,814.6 565.1,815.8 569,816.2 572.9,816.9 576.9,816.8 580.8,817 584.6,818.2 588.6,818.4 592.5,818.7 596.4,819 600.5,819 604.5,819.8 608.6,819.4 612.6,819.3 616.7,819.4 620.7,819.8 624.7,820.2 628.8,820.1 632.8,820.8 636.9,820.7 640.9,820.7 644.8,821 648.6,821.5 652.5,821.7 656.3,822 660.2,822.2 664,822.5 667.9,822.8 671.7,823.1 675.6,823.6 679.6,823.1 683.4,823.8 687.4,823.5 691.3,824.2 695.2,823.5 699.1,824.1 703,824.7 706.9,825.3 710.8,826.2 714.8,826.4 718.7,827.1 722.6,827.6 726.5,828.6 730.3,829 734.1,829.3 737.9,829.1 741.7,829.6 745.5,830 749.3,831.1 753.1,830.9 756.9,831.4 760.7,831.6 764.5,832 768.3,832.9 772.1,833.7 775.9,834.1 779.8,834 783.5,835 787.3,835.6 791.2,835.8 794.9,836.8 798.7,837.5 802.6,837.4 806.4,837.8 810.1,838.6 813.9,839 817.7,839.3 821.5,840.1 825.4,840.1 829.2,840.5 833,840.9 836.8,841.2 840.6,842.2 844.4,842.5 848.2,843.2 852,843.6 855.8,843.8 859.6,844.3 863.4,845.3 867.2,845.3 871,845.5 874.8,846.5 878.6,846.5 882.4,846.4 886.2,847.1 890,847.3 893.8,847 897.6,847.7 900,849.1 903.8,849.9 907.6,849.9 911.3,851.2 915.3,850.9 919,851.6 922.9,852.1 926.6,853.2 930.4,853.7 934.2,853.9 938,854.7 941.9,854.9 945.6,855.9 949.4,856.8 953.3,856.9 957,858.4 960.8,859 964.6,859.8 968.5,860.1 972.2,860.9 976,861.5 979.8,862.5 983.7,862.4 987.5,863.1 991.3,863.6 995.1,864.3 998.8,865.5 1002.7,865.9 1006.6,866.2 1010.2,867.5 1014.1,867.8 1017.8,869 1021.6,869.6 1025.5,870.2 1029.2,871 1033.2,870.9 1036.9,872 1040.8,872.8 1044.5,873.8 1048.3,874.8 1052.1,876 1055.8,877.2 1059.7,878 1063.4,879.1 1067.3,879.8 1071.1,880.6 1075,881.5 1078.7,882.7 1082.5,884 1086.3,885.2 1090.2,885.8 1094,886.8 1097.7,888.2 1101.6,888.8 1105.4,890.2 1109.1,891.6 1113.1,891.7 1116.7,893.4 1120.6,894.3 1124.4,895 1128.2,896.4 1132,897.3 1135.7,898.8 1139.6,899.4 1143.3,900.8 1147.2,901.6 1150.9,902.9 1154.7,903.9 1158.7,904.2 1162.3,905.9 1166.1,906.9 1169.9,908.1 1173.8,908.7 1177.5,910.1 1181.4,910.9 1185.3,911.9 1189,913.5 1192.9,914.3 1196.5,916 1200.4,917 1204.1,918.4 1208,919.3 1211.9,920.5 1215.7,921.9 1219.3,923.9 1223.2,925 1227.1,926.2 1230.8,927.8 1234.7,929.1 1238.4,930.7 1242.3,931.9 1246.1,933.5 1249.9,934.8 1253.5,936.9 1257.3,938.4 1261.2,939.8 1265.2,940.9 1269,942.3 1272.6,944.3 1276.5,945.6 1280.2,947.6 1284,949.2 1288,950.5 1291.6,952.7 1295.5,954.2 1299.3,955.8 1303.1,957.7 1306.9,959.3 1310.7,961 1314.1,963 1317.4,965 1320.7,967.1 1324.6,968.2 1327.8,970.5 1331,972.7 1334.6,974.3 1338,976.2 1341.3,978.3 1344.9,979.8 1348.6,981.5 1351.6,984.2 1355.1,986.1 1358.6,988.1 1362.1,990 1365.4,992.3 1369.1,993.9 1372.3,996.3 1375.9,998.1 1379.2,1000.4 1382.4,1002.5 1385.9,1004.1 1389.4,1005.5 1392.7,1007.5 1396.3,1008.9 1400,1012.6 1403.2,1014.8 1406.3,1017.3 1409.6,1019.3 1412.3,1022.2 1415.5,1024.4 1418.7,1026.7 1421.9,1028.8 1425.3,1030.7 1428,1033.5 1431.6,1035.1 1434.5,1037.8 1437.6,1040 1441,1041.9 1443.9,1044.4 1447.6,1046.7 1451,1049.3 1454.8,1051.4 1458.6,1053.4 1462,1056.1 1465.8,1058.2 1469.1,1060.8 1471.9,1063.9 1475.3,1066.3 1478.7,1068.8 1481.2,1072.2 1484.9,1074.3 1487.8,1077.4 1491.1,1079.9 1493.9,1083.1 1497.5,1085.3 1500.3,1088.4 1503.2,1091.4 1506.5,1093.9 1509.7,1096.6 1512.6,1099.2 1515,1102.2 1517.7,1105 1520.7,1107.6 1523.4,1110.4 1526.3,1112.9 1528.9,1115.8 1531.8,1118.5 1534.1,1121.6 1536.8,1124.3 1540.3,1126.4 1542.9,1129.3 1545.6,1132 1548.1,1135 1550.7,1138.2 1553.9,1140.7 1556.6,1143.7 1558.9,1147 1562.1,1149.6 1564.6,1152.8 1566.5,1156.1 1569.2,1158.7 1571.2,1162 1573.5,1164.9 1576.3,1167.5 1578.3,1170.6 1580.4,1173.8 1583,1176.5 1585.4,1179.4 1587.8,1182.3 1589.6,1185.6 1592,1188.5 1594.3,1191.5 1596.8,1194.3 1598.6,1197.6 1601.4,1200.2 1603.5,1203.3 1605.8,1206.3 1608.3,1209.1 1610.3,1212.3 1612,1215.6 1614.5,1218.4 1616.7,1221.4 1619.1,1224.7 1620.9,1228.3" stroke="#00FF00" stroke-width="9.6"/>
<path d="M355.1,1168.8 359.1,1168.4 363.1,1168.9 367.1,1168.4 371.1,1169.2 375.1,1168.1 379.1,1169.2 383.1,1168.8 387.1,1169.1 391.1,1168.4 395.1,1168 399.1,1168.1 403.1,1168.7 407,1167.8 411,1167.9 415,1168.9 419,1169 423,1168.9 427,1168.9 431,1168.5 435,1168.9 439,1168.6 443,1168.4 447,1168.2 451,1167.6 455,1167.7 458.9,1167.9 462.9,1168.2 466.9,1167.7 470.9,1168.8 474.9,1168.3 478.9,1168.5 482.9,1168.7 486.9,1168.1 490.9,1167.7 494.9,1168.7 499,1168.8 503,1167.9 507,1167.8 511.1,1168.7 515.1,1168.9 519.1,1168.8 523.1,1168.3 527.2,1168.6 531.2,1168 535.2,1168.2 539.2,1168.5 543.3,1169 547.3,1168.1 551.3,1169.3 555.4,1168.1 559.4,1169.5 563.4,1168.5 567.4,1169.3 571.5,1169.4 575.5,1169.6 579.5,1169 583.5,1169.3 587.6,1168.8 591.6,1169.6 595.6,1168.6 599.6,1169.8 603.7,1169.4 607.7,1168.7 611.7,1170 615.8,1169.1 619.8,1168.8 623.8,1169.5 627.8,1169.2 631.9,1169 635.9,1169.4 639.9,1170.1 643.9,1170.5 648,1170.1 652,1170.5 656,1170.6 660,1170.5 664.1,1170.1 668.1,1170 672.1,1169.9 676.1,1170.6 680.2,1170.2 684.2,1171 688.2,1170.5 692.3,1170.8 696.3,1171 700.3,1171.1 704.3,1171.2 708.4,1170.7 712.4,1170.9 716.4,1171.6 720.4,1171 724.5,1171.7 728.5,1172.2 732.5,1171.5 736.5,1172.4 740.6,1172 744.6,1172.5 748.6,1172 752.6,1172.4 756.7,1172.4 760.7,1172.2 764.7,1171.9 768.8,1172.5 772.8,1172.8 776.8,1172.8 780.8,1173.2 784.8,1173.7 788.9,1173.7 792.9,1173.9 797,1173.1 801,1174.1 805,1174.1 809,1174.7 813.1,1173.6 817.1,1174 821.1,1175.3 825.1,1174.6 829.2,1174.9 833.2,1175.4 837.2,1175.3 841.2,1175.2 845.3,1175.4 849.3,1175.7 853.3,1176.5 857.3,1176 861.4,1176.5 865.4,1175.9 869.4,1176.6 873.4,1176.6 877.5,1177 881.5,1177.3 885.5,1176.3 889.5,1177.7 893.6,1177.3 897.6,1177.3 900,1177.7 904,1177.6 907.9,1178.3 911.9,1178.1 915.8,1178.6 919.7,1179.7 923.7,1179.9 927.6,1180.4 931.6,1179.7 935.6,1180 939.5,1180.7 943.4,1181.1 947.4,1181.8 951.3,1181.8 955.3,1181.8 959.2,1182.8 963.2,1182.9 967.2,1182.9 971,1183.9 975.1,1183.2 979,1184.3 983,1184.1 986.9,1184.2 990.8,1185.2 994.8,1185.6 998.7,1186 1002.7,1186.2 1006.6,1186.4 1010.5,1187.6 1014.5,1187.7 1018.5,1187.2 1022.5,1187.4 1026.3,1189.1 1030.3,1188.7 1034.3,1188.6 1038.3,1189.1 1042.1,1190.2 1046.2,1189.8 1050.1,1190.5 1054,1191 1057.9,1191.7 1061.9,1191.8 1065.8,1192.7 1069.7,1193.5 1073.7,1193.8 1077.7,1194 1081.6,1194.5 1085.6,1194.5 1089.5,1195.5 1093.5,1196 1097.4,1196.4 1101.4,1196.7 1105.4,1197.2 1109.1,1198 1113,1197.8 1116.7,1199 1120.5,1199.8 1124.5,1199 1128.2,1199.8 1131.9,1201.3 1135.9,1200.6 1139.6,1201.6 1143.3,1202.6 1147.2,1202.9 1151.1,1202.7 1154.8,1204.1 1158.7,1203.8 1162.3,1205.5 1166.2,1205.3 1169.9,1206.8 1173.8,1206.8 1177.5,1208 1181.5,1207.6 1185.2,1208.6 1189.1,1208.9 1192.8,1210.3 1196.7,1210.1 1200.5,1210.7 1204.3,1211.4 1208,1212.6 1211.7,1213.8 1215.7,1213.6 1219.5,1214.4 1223.3,1215.2 1227,1216.1 1230.9,1216.6 1234.5,1218 1238.5,1217.8 1242.3,1218.7 1246.4,1219.5 1250.4,1220.9 1254.6,1220.9 1258.8,1221.6 1262.8,1222.8 1266.1,1224.2 1269.7,1224.3 1272.9,1225.9 1276.5,1226.3" stroke="#000000" stroke-width="11"/>
</g>
<text class="t" transform="translate(191.5 689.5) rotate(-90)" text-anchor="middle" style="font-size:67.4px">Current density (mA cm<tspan font-size="47" dy="-31.5">-2</tspan><tspan dy="31.5">)</tspan></text>
<text class="t" x="1170.5" y="1382.4" text-anchor="middle" style="font-size:68.2px">Voltage (V)</text>
<text class="pl" x="108.5" y="197">(a)</text>
<path d="M1486.5 99.7H1618.8" stroke="#FF0080" stroke-width="9" stroke-linecap="round"/>
<text class="t" x="1635" y="118.5" style="font-size:68.6px">0.5h</text>
<path d="M1486.5 181.7H1618.8" stroke="#FF0000" stroke-width="9" stroke-linecap="round"/>
<text class="t" x="1635" y="200.5" style="font-size:68.6px">1h</text>
<path d="M1486.5 263.6H1618.8" stroke="#0000FF" stroke-width="9" stroke-linecap="round"/>
<text class="t" x="1635" y="282.4" style="font-size:68.6px">2h</text>
<path d="M1486.5 345.6H1618.8" stroke="#008080" stroke-width="9" stroke-linecap="round"/>
<text class="t" x="1635" y="364.4" style="font-size:68.6px">4h</text>
<path d="M1486.5 427.6H1618.8" stroke="#900000" stroke-width="9" stroke-linecap="round"/>
<text class="t" x="1635" y="446.4" style="font-size:68.6px">8h</text>
<path d="M1486.5 509.6H1618.8" stroke="#00FF00" stroke-width="9" stroke-linecap="round"/>
<text class="t" x="1635" y="528.4" style="font-size:68.6px">16h</text>
<path d="M1486.5 591.5H1618.8" stroke="#000000" stroke-width="9" stroke-linecap="round"/>
<text class="t" x="1635" y="610.3" style="font-size:68.6px">raw carbon</text>
</g>
<g id="panel-b">
<rect x="320" y="1519.5" width="1643.5" height="1223.2" fill="none" stroke="#000" stroke-width="6"/>
<path d="M319 2742.7H296M319 2640.8H308M319 2538.8H296M319 2436.9H308M319 2335H296M319 2233H308M319 2131.1H296M319 2029.2H308M319 1927.2H296M319 1825.3H308M319 1723.4H296M319 1621.4H308M319 1519.5H296M320 2743.7V2766.7M437.4 2743.7V2754.7M554.8 2743.7V2766.7M672.2 2743.7V2754.7M789.6 2743.7V2766.7M907 2743.7V2754.7M1024.4 2743.7V2766.7M1141.8 2743.7V2754.7M1259.1 2743.7V2766.7M1376.5 2743.7V2754.7M1493.9 2743.7V2766.7M1611.3 2743.7V2754.7M1728.7 2743.7V2766.7M1846.1 2743.7V2754.7M1963.5 2743.7V2766.7" stroke="#000" stroke-width="6" stroke-linecap="round" fill="none"/>
<text class="tb" transform="translate(279.8 2762.1) scale(1 1.05)" text-anchor="end">0</text>
<text class="tb" transform="translate(279.8 2558.2) scale(1 1.05)" text-anchor="end">200</text>
<text class="tb" transform="translate(279.8 2354.4) scale(1 1.05)" text-anchor="end">400</text>
<text class="tb" transform="translate(279.8 2150.5) scale(1 1.05)" text-anchor="end">600</text>
<text class="tb" transform="translate(279.8 1946.6) scale(1 1.05)" text-anchor="end">800</text>
<text class="tb" transform="translate(279.8 1742.8) scale(1 1.05)" text-anchor="end">1000</text>
<text class="tb" transform="translate(279.8 1538.9) scale(1 1.05)" text-anchor="end">1200</text>
<text class="tb" transform="translate(320 2835.3) scale(1 1.05)" text-anchor="middle">0</text>
<text class="tb" transform="translate(554.8 2835.3) scale(1 1.05)" text-anchor="middle">200</text>
<text class="tb" transform="translate(789.6 2835.3) scale(1 1.05)" text-anchor="middle">400</text>
<text class="tb" transform="translate(1024.4 2835.3) scale(1 1.05)" text-anchor="middle">600</text>
<text class="tb" transform="translate(1259.1 2835.3) scale(1 1.05)" text-anchor="middle">800</text>
<text class="tb" transform="translate(1493.9 2835.3) scale(1 1.05)" text-anchor="middle">1000</text>
<text class="tb" transform="translate(1728.7 2835.3) scale(1 1.05)" text-anchor="middle">1200</text>
<text class="tb" transform="translate(1963.5 2835.3) scale(1 1.05)" text-anchor="middle">1400</text>
<g clip-path="url(#cb)" fill="#fff" stroke-width="3" stroke-linejoin="miter">
<g stroke="#0000FF">
<path d="M326 2730.8l17.2 17.2l-17.2 17.2l-17.2 -17.2z"/>
<path d="M326.9 2728.9l17.2 17.2l-17.2 17.2l-17.2 -17.2z"/>
<path d="M328.4 2725.7l17.2 17.2l-17.2 17.2l-17.2 -17.2z"/>
<path d="M330.2 2721.8l17.2 17.2l-17.2 17.2l-17.2 -17.2z"/>
<path d="M332.3 2717.3l17.2 17.2l-17.2 17.2l-17.2 -17.2z"/>
<path d="M335.3 2712.8l17.2 17.2l-17.2 17.2l-17.2 -17.2z"/>
<path d="M338.5 2707.8l17.2 17.2l-17.2 17.2l-17.2 -17.2z"/>
<path d="M341.9 2702.5l17.2 17.2l-17.2 17.2l-17.2 -17.2z"/>
<path d="M346.2 2697.4l17.2 17.2l-17.2 17.2l-17.2 -17.2z"/>
<path d="M351 2692.3l17.2 17.2l-17.2 17.2l-17.2 -17.2z"/>
<path d="M356 2686.9l17.2 17.2l-17.2 17.2l-17.2 -17.2z"/>
<path d="M361.4 2681.5l17.2 17.2l-17.2 17.2l-17.2 -17.2z"/>
<path d="M367.4 2676.4l17.2 17.2l-17.2 17.2l-17.2 -17.2z"/>
<path d="M373.5 2670.8l17.2 17.2l-17.2 17.2l-17.2 -17.2z"/>
<path d="M379.8 2665.2l17.2 17.2l-17.2 17.2l-17.2 -17.2z"/>
<path d="M385.3 2658.5l17.2 17.2l-17.2 17.2l-17.2 -17.2z"/>
<path d="M390.9 2651.4l17.2 17.2l-17.2 17.2l-17.2 -17.2z"/>
<path d="M400.1 2643.5l17.2 17.2l-17.2 17.2l-17.2 -17.2z"/>
<path d="M412.1 2634l17.2 17.2l-17.2 17.2l-17.2 -17.2z"/>
<path d="M425 2624.1l17.2 17.2l-17.2 17.2l-17.2 -17.2z"/>
<path d="M439.9 2614.6l17.2 17.2l-17.2 17.2l-17.2 -17.2z"/>
<path d="M457.4 2604.2l17.2 17.2l-17.2 17.2l-17.2 -17.2z"/>
<path d="M476.8 2594.9l17.2 17.2l-17.2 17.2l-17.2 -17.2z"/>
<path d="M498.7 2585.5l17.2 17.2l-17.2 17.2l-17.2 -17.2z"/>
<path d="M522.1 2578l17.2 17.2l-17.2 17.2l-17.2 -17.2z"/>
<path d="M547.7 2571.8l17.2 17.2l-17.2 17.2l-17.2 -17.2z"/>
<path d="M575.1 2567.6l17.2 17.2l-17.2 17.2l-17.2 -17.2z"/>
<path d="M603.7 2565.1l17.2 17.2l-17.2 17.2l-17.2 -17.2z"/>
<path d="M632.3 2565.1l17.2 17.2l-17.2 17.2l-17.2 -17.2z"/>
<path d="M660.5 2567.6l17.2 17.2l-17.2 17.2l-17.2 -17.2z"/>
<path d="M688.3 2571.8l17.2 17.2l-17.2 17.2l-17.2 -17.2z"/>
<path d="M712.9 2577.3l17.2 17.2l-17.2 17.2l-17.2 -17.2z"/>
<path d="M736.8 2584.7l17.2 17.2l-17.2 17.2l-17.2 -17.2z"/>
<path d="M758.7 2593l17.2 17.2l-17.2 17.2l-17.2 -17.2z"/>
<path d="M777.6 2601.7l17.2 17.2l-17.2 17.2l-17.2 -17.2z"/>
<path d="M795 2610.4l17.2 17.2l-17.2 17.2l-17.2 -17.2z"/>
<path d="M809.4 2618.6l17.2 17.2l-17.2 17.2l-17.2 -17.2z"/>
<path d="M822.4 2627.3l17.2 17.2l-17.2 17.2l-17.2 -17.2z"/>
<path d="M834.3 2635.3l17.2 17.2l-17.2 17.2l-17.2 -17.2z"/>
<path d="M843.8 2641.5l17.2 17.2l-17.2 17.2l-17.2 -17.2z"/>
<path d="M851.8 2647.7l17.2 17.2l-17.2 17.2l-17.2 -17.2z"/>
<path d="M859.2 2652.7l17.2 17.2l-17.2 17.2l-17.2 -17.2z"/>
<path d="M865.4 2655.9l17.2 17.2l-17.2 17.2l-17.2 -17.2z"/>
<path d="M871.7 2656.9l17.2 17.2l-17.2 17.2l-17.2 -17.2z"/>
<path d="M881.1 2655.2l17.2 17.2l-17.2 17.2l-17.2 -17.2z"/>
<path d="M891.6 2653.4l17.2 17.2l-17.2 17.2l-17.2 -17.2z"/>
<path d="M906.5 2654.4l17.2 17.2l-17.2 17.2l-17.2 -17.2z"/>
<path d="M922.7 2657.7l17.2 17.2l-17.2 17.2l-17.2 -17.2z"/>
<path d="M936.4 2663.9l17.2 17.2l-17.2 17.2l-17.2 -17.2z"/>
<path d="M946.3 2672.6l17.2 17.2l-17.2 17.2l-17.2 -17.2z"/>
<path d="M953.8 2681.3l17.2 17.2l-17.2 17.2l-17.2 -17.2z"/>
<path d="M956.3 2690l17.2 17.2l-17.2 17.2l-17.2 -17.2z"/>
</g>
<g stroke="#00FF00">
<path d="M334 2735.6l16.2 27.4h-32.4z"/>
<path d="M334.6 2733.4l16.2 27.4h-32.4z"/>
<path d="M335.4 2730.1l16.2 27.4h-32.4z"/>
<path d="M336.5 2726.1l16.2 27.4h-32.4z"/>
<path d="M337.7 2721.6l16.2 27.4h-32.4z"/>
<path d="M339 2716.6l16.2 27.4h-32.4z"/>
<path d="M340.5 2711.4l16.2 27.4h-32.4z"/>
<path d="M342.6 2706l16.2 27.4h-32.4z"/>
<path d="M344.8 2700.3l16.2 27.4h-32.4z"/>
<path d="M347.1 2694.3l16.2 27.4h-32.4z"/>
<path d="M349.5 2688.1l16.2 27.4h-32.4z"/>
<path d="M352.5 2682l16.2 27.4h-32.4z"/>
<path d="M356 2675.8l16.2 27.4h-32.4z"/>
<path d="M359.6 2669.4l16.2 27.4h-32.4z"/>
<path d="M363.3 2662.9l16.2 27.4h-32.4z"/>
<path d="M369.5 2654.2l16.2 27.4h-32.4z"/>
<path d="M376.3 2644.2l16.2 27.4h-32.4z"/>
<path d="M384.4 2633.6l16.2 27.4h-32.4z"/>
<path d="M394.4 2621.2l16.2 27.4h-32.4z"/>
<path d="M408.3 2610.7l16.2 27.4h-32.4z"/>
<path d="M422 2597l16.2 27.4h-32.4z"/>
<path d="M438.2 2582.1l16.2 27.4h-32.4z"/>
<path d="M459.3 2566.1l16.2 27.4h-32.4z"/>
<path d="M485 2550l16.2 27.4h-32.4z"/>
<path d="M513.6 2534.3l16.2 27.4h-32.4z"/>
<path d="M546.5 2520.1l16.2 27.4h-32.4z"/>
<path d="M583.1 2508.1l16.2 27.4h-32.4z"/>
<path d="M623.1 2498.4l16.2 27.4h-32.4z"/>
<path d="M665.4 2493l16.2 27.4h-32.4z"/>
<path d="M706.9 2492l16.2 27.4h-32.4z"/>
<path d="M748.4 2494.9l16.2 27.4h-32.4z"/>
<path d="M789.5 2500.9l16.2 27.4h-32.4z"/>
<path d="M826.9 2509.4l16.2 27.4h-32.4z"/>
<path d="M861.7 2521.8l16.2 27.4h-32.4z"/>
<path d="M891.6 2536l16.2 27.4h-32.4z"/>
<path d="M915.7 2550l16.2 27.4h-32.4z"/>
<path d="M934.4 2561.9l16.2 27.4h-32.4z"/>
<path d="M950.1 2570.1l16.2 27.4h-32.4z"/>
<path d="M965 2570.1l16.2 27.4h-32.4z"/>
<path d="M990.4 2566.1l16.2 27.4h-32.4z"/>
<path d="M1027.7 2570.1l16.2 27.4h-32.4z"/>
<path d="M1062 2586.8l16.2 27.4h-32.4z"/>
<path d="M1082.8 2609.9l16.2 27.4h-32.4z"/>
<path d="M1094.8 2631.8l16.2 27.4h-32.4z"/>
<path d="M1101.5 2647.3l16.2 27.4h-32.4z"/>
</g>
<g stroke="#FF0080">
<circle cx="325" cy="2746" r="14.1"/>
<circle cx="325.5" cy="2744.8" r="14.1"/>
<circle cx="326.5" cy="2742.7" r="14.1"/>
<circle cx="327.7" cy="2739.9" r="14.1"/>
<circle cx="329.2" cy="2736.7" r="14.1"/>
<circle cx="330.8" cy="2733" r="14.1"/>
<circle cx="332.6" cy="2728.9" r="14.1"/>
<circle cx="334.6" cy="2724.4" r="14.1"/>
<circle cx="336.8" cy="2719.6" r="14.1"/>
<circle cx="339.1" cy="2714.5" r="14.1"/>
<circle cx="341.7" cy="2709.2" r="14.1"/>
<circle cx="344.5" cy="2703.7" r="14.1"/>
<circle cx="347.4" cy="2697.9" r="14.1"/>
<circle cx="350.5" cy="2691.8" r="14.1"/>
<circle cx="353.7" cy="2685.6" r="14.1"/>
<circle cx="357.1" cy="2679.1" r="14.1"/>
<circle cx="361.2" cy="2672.8" r="14.1"/>
<circle cx="365.5" cy="2666.3" r="14.1"/>
<circle cx="369.9" cy="2659.7" r="14.1"/>
<circle cx="374.5" cy="2652.8" r="14.1"/>
<circle cx="379.8" cy="2646.2" r="14.1"/>
<circle cx="385.3" cy="2639.5" r="14.1"/>
<circle cx="390.9" cy="2632.6" r="14.1"/>
<circle cx="402.6" cy="2616.4" r="14.1"/>
<circle cx="416.5" cy="2597.7" r="14.1"/>
<circle cx="432.5" cy="2577.8" r="14.1"/>
<circle cx="453.9" cy="2555.4" r="14.1"/>
<circle cx="481.7" cy="2531.7" r="14.1"/>
<circle cx="514.6" cy="2508.8" r="14.1"/>
<circle cx="554.7" cy="2485" r="14.1"/>
<circle cx="602" cy="2464" r="14.1"/>
<circle cx="656" cy="2447.1" r="14.1"/>
<circle cx="714.3" cy="2436.1" r="14.1"/>
<circle cx="775.8" cy="2432.4" r="14.1"/>
<circle cx="836.3" cy="2437" r="14.1"/>
<circle cx="893.9" cy="2448.8" r="14.1"/>
<circle cx="947" cy="2464.6" r="14.1"/>
<circle cx="990.6" cy="2484.5" r="14.1"/>
<circle cx="1029.5" cy="2505.6" r="14.1"/>
<circle cx="1063.6" cy="2528" r="14.1"/>
<circle cx="1091.8" cy="2549.2" r="14.1"/>
<circle cx="1114.2" cy="2569.6" r="14.1"/>
<circle cx="1133.3" cy="2587.8" r="14.1"/>
<circle cx="1148.3" cy="2603.4" r="14.1"/>
<circle cx="1159.5" cy="2615.9" r="14.1"/>
<circle cx="1173.2" cy="2624.3" r="14.1"/>
<circle cx="1192.6" cy="2630.8" r="14.1"/>
<circle cx="1211.3" cy="2645" r="14.1"/>
<circle cx="1222.2" cy="2660.7" r="14.1"/>
<circle cx="1226.7" cy="2672.4" r="14.1"/>
<circle cx="1230.4" cy="2682.3" r="14.1"/>
<circle cx="1234.2" cy="2691" r="14.1"/>
<circle cx="1237.9" cy="2699" r="14.1"/>
</g>
<g stroke="#000">
<rect x="317.2" y="2736.8" width="24.5" height="24.5"/>
<rect x="318.1" y="2735.1" width="24.5" height="24.5"/>
<rect x="318.9" y="2733.5" width="24.5" height="24.5"/>
<rect x="319.7" y="2731.8" width="24.5" height="24.5"/>
<rect x="320.6" y="2730.2" width="24.5" height="24.5"/>
<rect x="321.4" y="2728.5" width="24.5" height="24.5"/>
<rect x="322.2" y="2726.9" width="24.5" height="24.5"/>
<rect x="323" y="2725.2" width="24.5" height="24.5"/>
<rect x="323.9" y="2723.6" width="24.5" height="24.5"/>
<rect x="324.7" y="2721.9" width="24.5" height="24.5"/>
<rect x="325.5" y="2720.3" width="24.5" height="24.5"/>
<rect x="326.4" y="2718.7" width="24.5" height="24.5"/>
<rect x="327.3" y="2716.6" width="24.5" height="24.5"/>
<rect x="328.6" y="2713.7" width="24.5" height="24.5"/>
<rect x="330" y="2710.5" width="24.5" height="24.5"/>
<rect x="331.6" y="2706.9" width="24.5" height="24.5"/>
<rect x="333.3" y="2703.1" width="24.5" height="24.5"/>
<rect x="335.1" y="2699.2" width="24.5" height="24.5"/>
<rect x="336.9" y="2695" width="24.5" height="24.5"/>
<rect x="338.8" y="2690.7" width="24.5" height="24.5"/>
<rect x="342.1" y="2682.5" width="24.5" height="24.5"/>
<rect x="345" y="2674.3" width="24.5" height="24.5"/>
<rect x="348.8" y="2665.1" width="24.5" height="24.5"/>
<rect x="353" y="2654.4" width="24.5" height="24.5"/>
<rect x="358.2" y="2642" width="24.5" height="24.5"/>
<rect x="364.5" y="2627.8" width="24.5" height="24.5"/>
<rect x="371.9" y="2611.1" width="24.5" height="24.5"/>
<rect x="381.6" y="2590.9" width="24.5" height="24.5"/>
<rect x="392.8" y="2567.3" width="24.5" height="24.5"/>
<rect x="408" y="2540.7" width="24.5" height="24.5"/>
<rect x="428.7" y="2508.8" width="24.5" height="24.5"/>
<rect x="453.8" y="2473.5" width="24.5" height="24.5"/>
<rect x="487.7" y="2434.9" width="24.5" height="24.5"/>
<rect x="531.7" y="2392.6" width="24.5" height="24.5"/>
<rect x="585.9" y="2350.6" width="24.5" height="24.5"/>
<rect x="653.8" y="2309.4" width="24.5" height="24.5"/>
<rect x="733.4" y="2272.4" width="24.5" height="24.5"/>
<rect x="825.1" y="2245.2" width="24.5" height="24.5"/>
<rect x="924.9" y="2228.4" width="24.5" height="24.5"/>
<rect x="1028.3" y="2226.6" width="24.5" height="24.5"/>
<rect x="1129.5" y="2237.9" width="24.5" height="24.5"/>
<rect x="1223.2" y="2262.4" width="24.5" height="24.5"/>
<rect x="1307.7" y="2295.2" width="24.5" height="24.5"/>
<rect x="1377.2" y="2332.2" width="24.5" height="24.5"/>
<rect x="1436.2" y="2373.3" width="24.5" height="24.5"/>
<rect x="1483.2" y="2414.4" width="24.5" height="24.5"/>
<rect x="1518.5" y="2451.8" width="24.5" height="24.5"/>
<rect x="1545.5" y="2485.6" width="24.5" height="24.5"/>
<rect x="1565.8" y="2513.8" width="24.5" height="24.5"/>
<rect x="1582.8" y="2534.2" width="24.5" height="24.5"/>
<rect x="1600.2" y="2549.2" width="24.5" height="24.5"/>
<rect x="1622.2" y="2560.8" width="24.5" height="24.5"/>
<rect x="1647" y="2574.6" width="24.5" height="24.5"/>
<rect x="1672" y="2592.7" width="24.5" height="24.5"/>
<rect x="1690" y="2614.6" width="24.5" height="24.5"/>
<rect x="1700.8" y="2635.4" width="24.5" height="24.5"/>
<rect x="1706.2" y="2653.2" width="24.5" height="24.5"/>
<rect x="1709.2" y="2668.2" width="24.5" height="24.5"/>
<rect x="1710.8" y="2680.1" width="24.5" height="24.5"/>
</g>
</g>
<g fill="#fff" stroke-width="3">
<path d="M1520 1567.8l17.2 17.2l-17.2 17.2l-17.2 -17.2z" stroke="#0000FF"/>
<path d="M1520 1652l16.2 27.4h-32.4z" stroke="#00FF00"/>
<circle cx="1520" cy="1757.9" r="14.1" stroke="#FF0080"/>
<rect x="1507.8" y="1832.2" width="24.5" height="24.5" stroke="#000"/>
</g>
<text class="tb" transform="translate(1602.5 1604.9) scale(1 1.05)" text-anchor="start">2h</text>
<text class="tb" transform="translate(1602.5 1691.3) scale(1 1.05)" text-anchor="start">16h</text>
<text class="tb" transform="translate(1602.5 1777.8) scale(1 1.05)" text-anchor="start">0.5h</text>
<text class="tb" transform="translate(1602.5 1864.2) scale(1 1.05)" text-anchor="start">raw carbon</text>
<g fill="none" stroke="#000" stroke-width="5.4" stroke-linejoin="miter" stroke-linecap="butt">
<path d="M448.3 1963.8H529.5L541.1 1994L565 1950.2L589 1994L612.5 1949.3L635 1980.4H719.7"/>
<path d="M895.7 1909.8H719.7V2058.8H858.4L870 2084.6L893.5 2040.4L916.6 2084.6L940.5 2040.4L961.7 2068.4H1115"/>
<path d="M925.3 1909.8H1108.6V2068"/>
<path d="M897 1860.6V1945.5M924 1860.6V1945.5"/>
<path d="M1108.6 1980.4H1192.4"/>
<path d="M1370.2 1907.2H1192.4V2056H1274.9L1286.5 2082.4L1310 2037.3L1333.1 2082.4L1357.1 2037.3L1378.3 2066.2H1462"/>
<path d="M1398.5 1906.5H1582.7V2058.8H1503"/>
<path d="M1371 1858.4V1943.3M1398.5 1858.4V1943.3"/>
<path d="M1445.5 2026.1L1469 2072.5L1481.2 2048.5L1493.4 2072.5L1517.4 2026.1"/>
<path d="M1582.7 1982.6H1667.7"/>
</g>
<text class="cb" transform="translate(870.5 1833) scale(0.69 1)">CPE1</text>
<text class="cb" transform="translate(1346.5 1841.9) scale(0.69 1)">CPE2</text>
<text class="cb" transform="translate(572 2069.7) scale(0.69 1)">R<tspan font-size="36" dy="15">s</tspan></text>
<text class="cb" transform="translate(893.5 2150.3) scale(0.69 1)">R<tspan font-size="36" dy="15">ct1</tspan></text>
<text class="cb" transform="translate(1311.4 2149.4) scale(0.69 1)">R<tspan font-size="36" dy="15">ct2</tspan></text>
<text class="cb" transform="translate(1470 2150.3) scale(0.69 1)">W</text>
<g transform="translate(140.2 0)">
<text class="s" font-size="68.5" transform="translate(0 2297.5) rotate(-90)">-</text>
<text class="tb" transform="translate(0 2277) rotate(-90) scale(1 1.05)">Z</text>
<text class="s" font-size="68.5" transform="translate(0 2232) rotate(-90)" stroke="#000" stroke-width="1.5">″</text>
<text class="s" font-size="68.5" transform="translate(0 2207.5) rotate(-90)" letter-spacing="0.4">(ohm</text>
<text class="s" font-size="68.5" transform="translate(0 2036.5) rotate(-90)" letter-spacing="1.4">cm<tspan font-size="41" dy="-19">2</tspan><tspan dy="19">)</tspan></text>
</g>
<text class="tb" transform="translate(939.5 2927.9) scale(1 1.05)">Z</text>
<text class="s" font-size="68.5" x="984" y="2927.9" stroke="#000" stroke-width="1.5">′</text>
<text class="s" font-size="67.6" x="996.5" y="2927.9">(ohm</text>
<text class="s" font-size="67.6" x="1165.5" y="2927.9">cm</text>
<text class="s" font-size="68" transform="translate(1255 2927.9) scale(1.12 1)">²</text>
<text class="s" font-size="67.6" x="1284" y="2927.9">)</text>
<text class="pl" transform="translate(47.5 1650) scale(1 1.07)">(b)</text>
</g>
</svg></body></html>
